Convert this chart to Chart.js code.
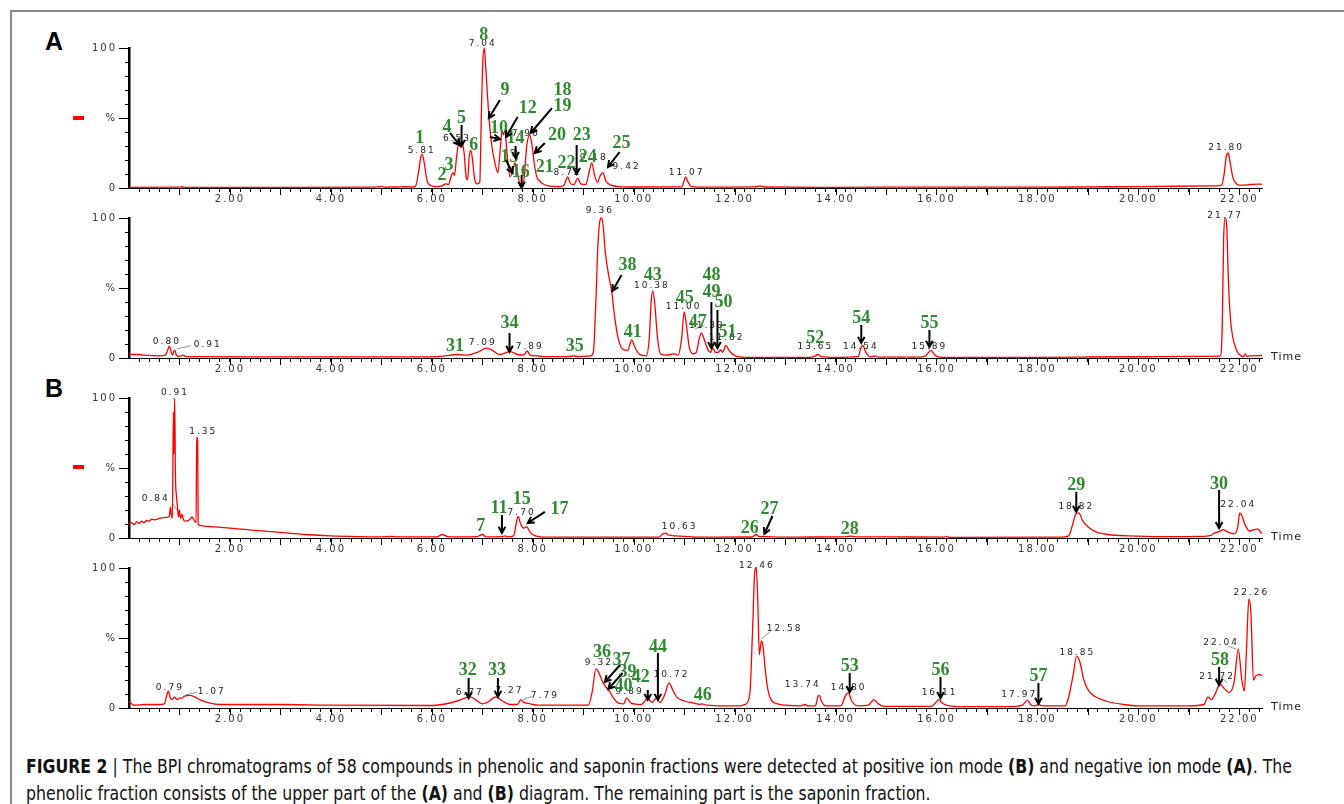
<!DOCTYPE html>
<html>
<head>
<meta charset="utf-8">
<script src="https://cdn.jsdelivr.net/npm/chart.js@4.4.0/dist/chart.umd.min.js"></script>
<style>
  html, body { margin: 0; padding: 0; background: #fff; }
  body { width: 1344px; height: 804px; position: relative; overflow: hidden; font-family: "Liberation Sans", Arial, sans-serif; }
  canvas { position: absolute; left: 0; }
  .frame-top { position: absolute; left: 10px; top: 10px; width: 1334px; height: 0; border-top: 2px solid #8a8a8a; }
  .frame-left { position: absolute; left: 10px; top: 10px; width: 0; height: 794px; border-left: 2px solid #8a8a8a; }
  .letter { position: absolute; font: bold 25px "Liberation Sans", Arial, sans-serif; line-height: 1; }
  .dash { position: absolute; width: 11px; height: 4px; background: #f00; }
  .cap { position: absolute; left: 26px; white-space: nowrap; transform-origin: 0 0;
         font-family: "Liberation Sans Narrow", "DejaVu Sans Condensed", "Liberation Sans", sans-serif;
         font-size: 19px; line-height: 1; color: #111; }
  .cap b { font-weight: bold; }
  .cap .bar { font-weight: normal; }
</style>
</head>
<body>
<div class="frame-top"></div>
<div class="frame-left"></div>
<div class="letter" style="left:45px; top:29px;">A</div>
<div class="letter" style="left:45px; top:376px;">B</div>
<div class="dash" style="left:73px; top:116px;"></div>
<div class="dash" style="left:73px; top:465px;"></div>

<canvas id="c1" width="1344" height="210"></canvas>
<canvas id="c2" width="1344" height="210"></canvas>
<canvas id="c3" width="1344" height="210"></canvas>
<canvas id="c4" width="1344" height="210"></canvas>

<div class="cap" id="cap1" style="top:757px;"><b>FIGURE 2</b> <span class="bar">|</span> The BPI chromatograms of 58 compounds in phenolic and saponin fractions were detected at positive ion mode <b>(B)</b> and negative ion mode <b>(A)</b>. The</div>
<div class="cap" id="cap2" style="top:784px;">phenolic fraction consists of the upper part of the <b>(A)</b> and <b>(B)</b> diagram. The remaining part is the saponin fraction.</div>

<script>
// ---- traces: [retention time (min), relative intensity (%)] ----
const aTopTrace = [
  [0.0,0.5],[1.0,0.6],[1.05,0.9],[1.1,0.5],[3.0,0.5],[4.9,0.6],[5.0,1.2],[5.05,0.6],[5.3,0.7],[5.5,0.9],
  [5.6,0.7],[5.68,1.5],[5.74,12],[5.78,22],[5.81,24],[5.85,18],[5.9,6],[5.97,2],[6.1,1],[6.2,1.5],
  [6.28,3],[6.33,2.5],[6.38,8],[6.42,11],[6.45,9],[6.49,22],[6.53,31],[6.57,29],[6.6,33],[6.64,25],
  [6.68,8],[6.71,6],[6.74,22],[6.77,27],[6.8,22],[6.85,6],[6.9,3],[6.95,4],[6.98,50],[7.01,90],
  [7.04,100],[7.07,85],[7.13,52],[7.19,30],[7.25,18],[7.31,11],[7.36,30],[7.39,41],[7.42,38],[7.45,41],
  [7.49,25],[7.55,8],[7.6,12],[7.65,18],[7.69,12],[7.75,3],[7.82,5],[7.88,30],[7.94,38],[7.98,32],
  [8.04,15],[8.09,7],[8.14,5],[8.2,3],[8.3,1.5],[8.5,1],[8.62,2],[8.69,8],[8.75,3],[8.82,2.5],
  [8.89,7],[8.95,3],[9.05,2.5],[9.12,12],[9.17,18],[9.22,10],[9.28,4],[9.34,9],[9.39,11],[9.45,5],
  [9.55,2],[9.7,1],[10.0,0.7],[10.95,0.8],[11.0,5],[11.03,8],[11.08,4],[11.15,1],[11.5,0.6],[12.4,0.8],
  [12.5,1.5],[12.6,0.7],[14,0.5],[16,0.6],[18,0.6],[19,0.8],[20,1],[21.5,1.5],[21.65,2],[21.7,10],
  [21.74,22],[21.78,25],[21.82,18],[21.87,8],[21.92,4],[22.0,2],[22.1,2],[22.2,2.5],[22.45,2.8]
];
const aBottomTrace = [
  [0.0,3.5],[0.05,2.5],[0.2,2.5],[0.3,2.0],[0.6,1.5],[0.72,2],[0.77,6],[0.8,8.5],[0.83,5],[0.86,2],
  [0.89,5],[0.91,5.5],[0.94,2],[1.0,1.2],[1.07,2],[1.12,1.2],[1.3,1],[2.5,0.8],[5.5,0.8],[6.2,1.2],
  [6.5,2.5],[6.7,2],[6.9,4],[7.09,7],[7.2,5.5],[7.35,2.5],[7.55,4.5],[7.7,2.5],[7.82,2],[7.89,5],
  [7.95,2],[8.1,1.5],[8.2,1],[8.7,1],[8.8,1.5],[8.9,1],[9.15,1.5],[9.2,4],[9.25,40],[9.29,80],
  [9.33,98],[9.36,100],[9.39,96],[9.44,75],[9.5,60],[9.57,46],[9.62,30],[9.7,13],[9.8,6],[9.88,5.5],
  [9.96,13],[10.02,8],[10.1,3],[10.25,1.5],[10.31,15],[10.35,42],[10.38,48],[10.42,38],[10.47,15],[10.53,3],
  [10.65,2],[10.8,3],[10.88,2],[10.95,14],[11.0,33],[11.04,25],[11.1,8],[11.18,3],[11.24,4],[11.3,14],
  [11.34,18],[11.4,13],[11.47,6],[11.52,4],[11.57,7],[11.62,4],[11.68,4],[11.72,6],[11.76,4],[11.8,7],
  [11.83,9],[11.88,6],[11.95,3],[12.05,1],[12.3,0.5],[13.5,0.5],[13.6,1.5],[13.65,2.5],[13.72,1],[14.0,0.5],
  [14.45,1],[14.5,7],[14.54,9],[14.6,4],[14.7,0.8],[14.78,1.5],[14.85,0.6],[15.7,0.6],[15.8,2],[15.89,5.5],
  [15.97,2],[16.1,0.5],[17,0.4],[18,0.5],[19,0.7],[20,0.9],[21,1.1],[21.62,1.3],[21.66,20],[21.69,85],
  [21.72,100],[21.75,95],[21.78,60],[21.82,30],[21.87,15],[21.93,7],[21.99,3],[22.04,1.5],[22.08,0.8],[22.12,3],
  [22.15,1.2],[22.2,1.5],[22.45,1.8]
];
const bTopTrace = [
  [0.0,10],[0.05,11],[0.1,9.5],[0.15,11.5],[0.2,10.5],[0.25,12],[0.3,11],[0.35,12.5],[0.4,12],[0.45,13.5],
  [0.5,13],[0.6,14],[0.7,14.5],[0.78,15],[0.8,16],[0.82,22],[0.84,16],[0.86,14],[0.88,90],[0.89,60],
  [0.905,100],[0.92,45],[0.94,30],[0.96,22],[0.98,15],[1.0,20],[1.02,14],[1.05,17],[1.08,13],[1.12,12],
  [1.2,13],[1.25,15],[1.3,12],[1.33,11],[1.34,72],[1.36,70],[1.37,10],[1.4,9],[1.5,8.5],[1.7,8],
  [2.0,7],[2.5,5.5],[3.0,4],[3.5,2.5],[4.0,1.5],[4.5,1],[5.0,0.8],[5.2,1.2],[5.3,0.8],[6.1,0.8],
  [6.2,2.5],[6.3,1.2],[6.5,0.8],[6.9,1],[7.0,2.5],[7.08,0.8],[7.4,1],[7.45,1.5],[7.5,0.8],[7.62,1.5],
  [7.67,10],[7.71,15.5],[7.76,10],[7.82,7],[7.88,8],[7.95,4],[8.05,1.5],[8.3,0.6],[10.5,0.6],[10.58,3],
  [10.63,3.5],[10.7,2],[11.0,1.2],[11.2,0.6],[12.35,0.7],[12.42,2.5],[12.48,1.2],[12.6,1],[13,0.6],[13.5,0.7],
  [14.2,0.8],[14.3,1.4],[14.4,0.8],[15,0.8],[16.15,0.6],[16.2,1.2],[16.25,0.5],[18.5,0.6],[18.62,1.5],[18.7,10],
  [18.76,17],[18.82,18],[18.9,12],[19.0,8],[19.15,4.5],[19.4,2.5],[19.8,1.5],[20.5,1],[21.3,1.2],[21.45,2],
  [21.5,3.5],[21.6,4.5],[21.68,6],[21.76,4.5],[21.9,3],[21.97,8],[22.01,18],[22.05,16],[22.12,9],[22.2,5],
  [22.3,6],[22.36,6.5],[22.45,3]
];
const bBottomTrace = [
  [0.0,5],[0.05,3],[0.1,2],[0.3,2.5],[0.6,2.5],[0.7,3],[0.74,8],[0.78,12],[0.82,7],[0.86,6],
  [0.9,8],[0.95,6],[1.0,7],[1.05,7],[1.1,8.5],[1.2,9],[1.3,8],[1.4,6],[1.6,3.5],[1.8,2.5],
  [3,2.5],[4,2],[6,1.8],[6.2,2.5],[6.5,5],[6.77,8],[6.9,5],[7.0,3],[7.1,4],[7.27,8],
  [7.4,5],[7.55,2.5],[7.7,2.5],[7.76,6],[7.82,4],[7.88,3.5],[7.95,3],[8.1,2],[9.1,2],[9.18,12],
  [9.25,28],[9.3,26],[9.38,19],[9.45,15],[9.52,12],[9.6,7],[9.7,3.5],[9.8,3],[9.86,7],[9.95,3.5],
  [10.15,2.5],[10.28,7],[10.36,4],[10.45,7],[10.52,4],[10.62,10],[10.7,18],[10.76,14],[10.85,8],[11.0,5],
  [11.2,3.5],[11.3,2.5],[11.35,3],[11.45,2],[11.8,1.5],[12.1,1.5],[12.2,2.5],[12.3,10],[12.36,60],[12.4,98],
  [12.43,100],[12.46,75],[12.49,38],[12.53,48],[12.56,45],[12.6,30],[12.65,15],[12.72,6],[12.85,3],[13.0,2],
  [13.3,1.5],[13.4,2.5],[13.45,1.5],[13.6,1.5],[13.65,8],[13.68,9],[13.72,5],[13.8,1.5],[14.1,1.5],[14.2,9],
  [14.25,11],[14.32,5],[14.45,1.5],[14.65,2],[14.76,6],[14.85,3],[14.95,1.2],[15.9,1.2],[16.0,4.5],[16.05,6],
  [16.1,4],[16.25,1.5],[16.5,1],[17.5,1],[17.7,2],[17.8,5.5],[17.88,2],[17.95,1.5],[18.03,2.5],[18.1,1.5],
  [18.55,1.5],[18.62,8],[18.7,22],[18.78,37],[18.84,33],[18.92,20],[19.02,12],[19.15,8],[19.35,5],[19.7,2.5],
  [20.0,1.5],[21.0,1.5],[21.3,2.5],[21.38,8],[21.45,6],[21.52,10],[21.62,17],[21.7,14],[21.8,11],[21.9,19],
  [21.98,42],[22.05,20],[22.1,12],[22.14,40],[22.19,78],[22.23,68],[22.28,20],[22.33,23],[22.4,24],[22.45,23]
];

// ---- retention time labels: [text, time, %] ----
const aTopPeaks = [
  ['5.81',5.80,27],['6.53',6.50,35],['7.04',7.01,103],['7.96',7.86,39],['8.72',8.69,10.7],
  ['9.18',9.21,22],['9.42',9.86,15],['11.07',11.05,10.7],['21.80',21.74,29]
];
const aBottomPeaks = [
  ['0.80',0.75,11.4],['0.91',1.56,9.3],['7.09',7.01,10.7],['7.89',7.94,7.9],['9.36',9.33,105],
  ['10.38',10.36,51.4],['11.00',10.99,36.4],['11.33',11.45,22.9],['11.82',11.84,14.3],['13.65',13.60,7.9],
  ['14.54',14.50,7.9],['15.89',15.86,7.9],['21.77',21.72,102]
];
const bTopPeaks = [
  ['0.91',0.91,104],['1.35',1.47,75.7],['0.84',0.53,27.9],['7.70',7.78,17.9],['10.63',10.91,7.9],
  ['18.82',18.77,22.1],['22.04',21.98,23.6]
];
const bBottomPeaks = [
  ['0.79',0.81,14.3],['1.07',1.64,11.4],['6.77',6.75,10.7],['7.27',7.54,12.1],['7.79',8.24,8.6],
  ['9.32',9.31,32.1],['9.89',9.92,11.4],['10.72',10.75,23.6],['12.46',12.44,102],['12.58',12.99,56.4],
  ['13.74',13.35,16.4],['14.80',14.26,14.3],['16.11',16.06,10.7],['17.97',17.64,9.3],['18.85',18.79,39.3],
  ['21.72',21.56,22.1],['22.04',21.64,46.4],['22.26',22.24,82.1]
];

// ---- compound numbers: [text, time, %] ----
const aTopIds = [
  ['1',5.76,35.7],['2',6.20,9.3],['3',6.34,16.4],['4',6.30,43.6],['5',6.59,50],['6',6.83,30.7],
  ['8',7.03,109.3],['9',7.45,70],['10',7.33,42.9],['12',7.90,57.1],['13',7.54,22.1],['14',7.66,35.7],
  ['16',7.76,11.4],['18',8.59,70],['19',8.59,58.6],['20',8.48,37.9],['21',8.24,15],['22',8.67,17.9],
  ['23',8.97,37.9],['24',9.09,22.1],['25',9.76,32.1]
];
const aBottomIds = [
  ['31',6.46,8.6],['34',7.54,25],['35',8.83,8.6],['38',9.88,66.4],['41',9.98,18.6],['43',10.38,59.3],
  ['45',11.01,42.9],['47',11.27,25.7],['48',11.54,59.3],['49',11.54,47.1],['50',11.78,40],['51',11.86,18.6],
  ['52',13.60,14.3],['54',14.51,28.6],['55',15.86,25]
];
const bTopIds = [
  ['7',6.97,8.6],['11',7.33,21.4],['15',7.78,27.9],['17',8.53,20.7],['26',12.30,7.1],['27',12.69,20.7],
  ['28',14.28,6.4],['29',18.77,37.9],['30',21.60,38.6]
];
const bBottomIds = [
  ['32',6.71,27.1],['33',7.29,27.1],['36',9.37,40],['37',9.76,34.3],['39',9.88,25.7],['40',9.80,15.7],
  ['42',10.14,22.1],['44',10.48,43.6],['46',11.37,9.3],['53',14.28,30],['56',16.08,27.1],['57',18.02,22.9],
  ['58',21.62,34.3]
];

// ---- arrows: [from time, from %, to time, to %] ----
const aTopArrows = [
  [6.36,39.3,6.55,30.7],[6.59,45,6.59,30],[7.35,62.9,7.13,50],[7.15,36.4,7.35,35],[7.70,50.7,7.47,36.4],
  [7.47,20,7.60,10.7],[7.66,30,7.66,21.4],[7.78,9.3,7.78,0],[8.38,57.1,7.96,39.3],[8.24,32.1,8.04,25],
  [8.87,30.7,8.87,10],[9.72,25.7,9.49,15]
];
const aBottomArrows = [
  [7.54,17.9,7.54,4.3],[9.76,59.3,9.58,47.9],[11.54,40,11.54,7.1],[11.66,34.3,11.66,7.1],
  [14.51,23.6,14.51,10.7],[15.86,20,15.86,7.9]
];
const bTopArrows = [
  [7.39,16.4,7.39,3.6],[8.24,18.6,7.90,10.7],[12.75,15.7,12.59,2.9],[18.77,32.9,18.77,18.6],[21.60,34.3,21.60,7.1]
];
const bBottomArrows = [
  [6.73,21.4,6.73,7.1],[7.31,21.4,7.31,7.9],[9.73,30.7,9.43,18.6],[9.78,25,9.50,13.6],[10.28,12.9,10.28,5.7],
  [10.48,39.3,10.48,5.7],[14.28,25,14.28,11.4],[16.08,22.1,16.08,7.1],[18.02,17.9,18.02,2.9],[21.60,29.3,21.60,16.4]
];

// ---- thin leader lines from labels to peaks ----
const aBottomLeaders = [[0.95,6.5,1.22,8.8],[11.22,21,11.40,23]];
const bTopLeaders = [[0.86,25,0.95,20]];
const bBottomLeaders = [[1.12,9.5,1.36,11.2],[12.52,49,12.72,55],[7.80,6,7.98,8.2],[21.78,44,21.95,42],[21.68,21,21.75,18]];

// axis ticks
const xMinor = [];
for (let i = 1; i <= 112; i++) xMinor.push(Math.round(i * 2) / 10);
const yMinor = [0, 10, 20, 30, 40, 50, 60, 70, 80, 90, 100];

const green = '#2f8a2f';

function arrow(ctx, x1, y1, x2, y2) {
  const a = Math.atan2(y2 - y1, x2 - x1), h = 7;
  ctx.beginPath();
  ctx.moveTo(x1, y1); ctx.lineTo(x2, y2);
  ctx.moveTo(x2 - h * Math.cos(a - 0.5), y2 - h * Math.sin(a - 0.5));
  ctx.lineTo(x2, y2);
  ctx.lineTo(x2 - h * Math.cos(a + 0.5), y2 - h * Math.sin(a + 0.5));
  ctx.stroke();
}

function notes(p) {
  return {
    id: 'notes',
    beforeDraw(chart) { chart.ctx.letterSpacing = '2px'; },
    afterDraw(chart) {
      const { ctx, chartArea } = chart;
      const x = chart.scales.x, y = chart.scales.y;
      ctx.save();
      ctx.strokeStyle = '#000';
      ctx.lineWidth = 1;
      // longer ticks each minute and at 0/50/100
      ctx.beginPath();
      for (let m = 1; m <= 22; m++) {
        const px = Math.round(x.getPixelForValue(m)) + 0.5;
        ctx.moveTo(px, chartArea.bottom); ctx.lineTo(px, chartArea.bottom + 7);
      }
      for (const v of [0, 50, 100]) {
        const py = Math.round(y.getPixelForValue(v)) + 0.5;
        ctx.moveTo(chartArea.left - 10, py); ctx.lineTo(chartArea.left, py);
      }
      ctx.stroke();

      // leaders
      ctx.strokeStyle = '#777';
      ctx.lineWidth = 0.8;
      for (const l of (p.leaders || [])) {
        ctx.beginPath();
        ctx.moveTo(x.getPixelForValue(l[0]), y.getPixelForValue(l[1]));
        ctx.lineTo(x.getPixelForValue(l[2]), y.getPixelForValue(l[3]));
        ctx.stroke();
      }

      // retention time labels
      ctx.font = '9px "DejaVu Sans"';
      ctx.letterSpacing = '2px';
      ctx.fillStyle = '#222';
      ctx.textAlign = 'center';
      ctx.textBaseline = 'middle';
      for (const l of p.peaks) ctx.fillText(l[0], x.getPixelForValue(l[1]), y.getPixelForValue(l[2]));

      // compound numbers
      ctx.font = 'bold 18px "Liberation Serif"';
      ctx.letterSpacing = '0px';
      ctx.fillStyle = green;
      for (const l of p.ids) ctx.fillText(l[0], x.getPixelForValue(l[1]), y.getPixelForValue(l[2]));

      // arrows
      ctx.strokeStyle = '#000';
      ctx.lineWidth = 2;
      for (const a of p.arrows) {
        arrow(ctx, x.getPixelForValue(a[0]), y.getPixelForValue(a[1]), x.getPixelForValue(a[2]), y.getPixelForValue(a[3]));
      }

      if (p.time) {
        ctx.font = '11px "DejaVu Sans"';
        ctx.letterSpacing = '1px';
        ctx.fillStyle = '#222';
        ctx.textAlign = 'left';
        ctx.fillText('Time', chartArea.right + 9, chartArea.bottom - 1);
      }
      ctx.restore();
    }
  };
}

const panels = [
  { id: 'c1', top: 48,  trace: aTopTrace,    peaks: aTopPeaks,    ids: aTopIds,    arrows: aTopArrows,    time: false },
  { id: 'c2', top: 218, trace: aBottomTrace, peaks: aBottomPeaks, ids: aBottomIds, arrows: aBottomArrows, leaders: aBottomLeaders, time: true },
  { id: 'c3', top: 398, trace: bTopTrace,    peaks: bTopPeaks,    ids: bTopIds,    arrows: bTopArrows,    leaders: bTopLeaders, time: true },
  { id: 'c4', top: 568, trace: bBottomTrace, peaks: bBottomPeaks, ids: bBottomIds, arrows: bBottomArrows, leaders: bBottomLeaders, time: true }
];

const tickFont = { family: 'DejaVu Sans', size: 10 };

for (const p of panels) {
  const el = document.getElementById(p.id);
  el.style.top = (p.top - 45) + 'px';
  new Chart(el.getContext('2d'), {
    type: 'line',
    data: {
      datasets: [{
        data: p.trace.map(d => ({ x: d[0], y: d[1] })),
        borderColor: '#ff0000',
        borderWidth: 1.3,
        pointRadius: 0,
        cubicInterpolationMode: 'monotone',
        clip: false
      }]
    },
    options: {
      responsive: false,
      animation: false,
      events: [],
      layout: { padding: { left: 0, right: 82, top: 45, bottom: 0 } },
      plugins: { legend: { display: false }, tooltip: { enabled: false } },
      scales: {
        x: {
          type: 'linear', min: 0, max: 22.45,
          afterFit: s => { s.height = 25; },
          afterBuildTicks: s => { s.ticks = xMinor.map(v => ({ value: v })); },
          ticks: {
            autoSkip: false, maxRotation: 0, minRotation: 0, padding: 1,
            color: '#333', font: tickFont,
            callback: v => (Math.abs(v - Math.round(v)) < 1e-6 && Math.round(v) % 2 === 0) ? v.toFixed(2) : ''
          },
          grid: { drawOnChartArea: false, tickLength: 4, color: '#000', lineWidth: 1 },
          border: { color: '#000', width: 1 }
        },
        y: {
          min: 0, max: 100,
          afterFit: s => { s.width = 129; },
          afterBuildTicks: s => { s.ticks = yMinor.map(v => ({ value: v })); },
          ticks: {
            autoSkip: false, padding: 8, color: '#333', font: tickFont,
            callback: v => v === 100 ? '100' : v === 50 ? '%' : v === 0 ? '0' : ''
          },
          grid: { drawOnChartArea: false, tickLength: 4, color: '#000', lineWidth: 1 },
          border: { color: '#000', width: 2.5 }
        }
      }
    },
    plugins: [notes(p)]
  });
}

// fit the condensed caption to the width it takes in the figure
const c1 = document.getElementById('cap1'), c2 = document.getElementById('cap2');
const k = 1266 / c1.getBoundingClientRect().width;
c1.style.transform = 'scaleX(' + k + ')';
c2.style.transform = 'scaleX(' + k + ')';
</script>
</body>
</html>
